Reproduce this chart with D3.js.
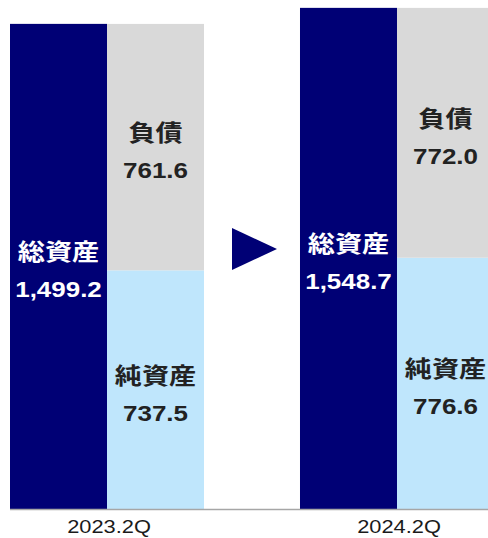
<!DOCTYPE html>
<html>
<head>
<meta charset="utf-8">
<script src="https://cdn.jsdelivr.net/npm/d3@7"></script>
<style>
  html, body { margin: 0; padding: 0; background: #fff; }
  svg { display: block; }
</style>
</head>
<body>
<div id="chart"></div>
<script>
// Balance sheet: total assets vs liabilities + net assets
const periods = ["2023.2Q", "2024.2Q"];
const totalAssets = [1499.2, 1548.7];
const liabilities = [761.6, 772.0];
const netAssets = [737.5, 776.6];
const totalName = "総資産", liabName = "負債", netName = "純資産";

const width = 488, height = 538;
const base = 509;
const navy = "#000075", grey = "#d9d9d9", lightBlue = "#bfe6fc";
const fmt = d3.format(",.1f");
const sx = 1.18; // text in source is slightly wide

const svg = d3.select("#chart").append("svg").attr("width", width).attr("height", height);

const x = d3.scaleBand().domain(periods).range([10, 494]).paddingInner(0.331).paddingOuter(0);
const sub = d3.scaleBand().domain(["total", "split"]).range([0, x.bandwidth()]).padding(0);
const y = d3.scaleLinear().domain([0, 1573]).range([base, 0]);

const rows = periods.map((p, i) => ({ p, total: totalAssets[i], liab: liabilities[i], net: netAssets[i] }));

const g = svg.selectAll(".grp").data(rows).join("g").attr("transform", d => `translate(${x(d.p)},0)`);

// total assets bar
g.append("rect").attr("x", sub("total")).attr("width", sub.bandwidth())
  .attr("y", d => y(d.total)).attr("height", d => base - y(d.total)).attr("fill", navy);
// net assets (bottom)
g.append("rect").attr("x", sub("split")).attr("width", sub.bandwidth())
  .attr("y", d => y(d.net)).attr("height", d => base - y(d.net)).attr("fill", lightBlue);
// liabilities (top)
g.append("rect").attr("x", sub("split")).attr("width", sub.bandwidth())
  .attr("y", d => y(d.net + d.liab)).attr("height", d => y(d.net) - y(d.net + d.liab)).attr("fill", grey);

function label(sel, cx, cy, name, val, color) {
  const t = sel.append("g").attr("transform", `translate(${cx},${cy}) scale(${sx},1)`)
    .attr("fill", color).attr("font-weight", "bold").attr("text-anchor", "middle")
    .attr("font-family", "'Liberation Sans', 'Noto Sans CJK JP', sans-serif").attr("font-size", 22);
  t.append("text").attr("y", -6).attr("font-size", 23).text(name);
  t.append("text").attr("y", 31).text(fmt(val));
}

g.each(function (d) {
  const s = d3.select(this);
  label(s, sub("total") + sub.bandwidth() / 2, (y(d.total) + base) / 2, totalName, d.total, "#fff");
  label(s, sub("split") + sub.bandwidth() / 2, (y(d.net + d.liab) + y(d.net)) / 2, liabName, d.liab, "#222");
  label(s, sub("split") + sub.bandwidth() / 2, (y(d.net) + base) / 2, netName, d.net, "#222");
});

// baseline
svg.append("line").attr("x1", 10).attr("x2", width).attr("y1", base + 0.5).attr("y2", base + 0.5)
  .attr("stroke", "#a6a6a6").attr("stroke-width", 1.5);

// category labels
svg.selectAll(".xl").data(periods).join("text")
  .attr("transform", d => `translate(${x(d) + x.bandwidth() / 2 + 2},533) scale(${sx},1)`)
  .attr("text-anchor", "middle").attr("font-family", "'Liberation Sans', sans-serif")
  .attr("font-size", 18.5).attr("fill", "#1a1a1a").text(d => d);

// arrow between the periods
const gapMid = (x(periods[0]) + x.bandwidth() + x(periods[1])) / 2;
const ay = 249;
svg.append("path")
  .attr("d", `M${gapMid - 20},${ay - 21}L${gapMid + 25},${ay}L${gapMid - 20},${ay + 21}Z`)
  .attr("fill", navy);
</script>
</body>
</html>
